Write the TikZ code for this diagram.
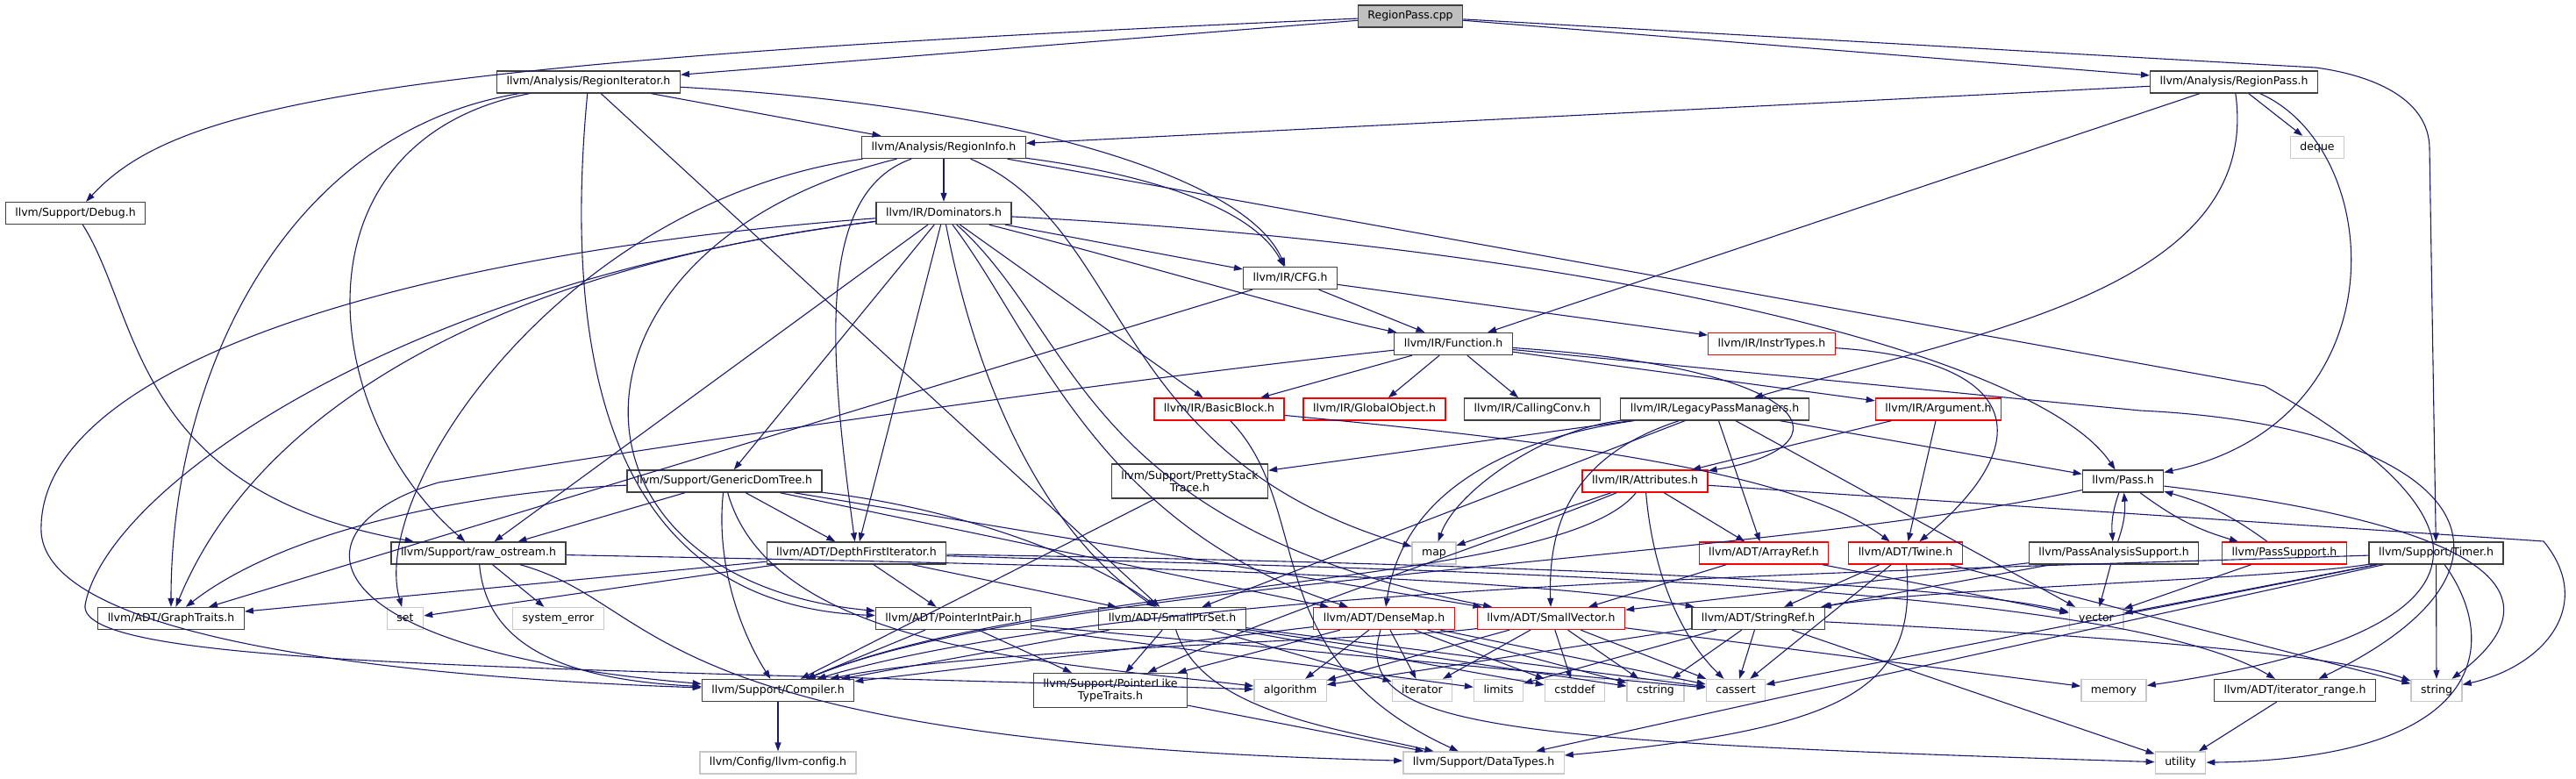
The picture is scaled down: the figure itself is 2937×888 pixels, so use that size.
\documentclass[tikz,border=0pt]{standalone}
\usepackage{fontspec}
\setmainfont{DejaVu Sans}
\usepackage{tikz}
\usetikzlibrary{arrows.meta}
\definecolor{edgeblue}{RGB}{25,25,112}
\definecolor{boxgray}{RGB}{64,64,64}
\definecolor{sysgray}{RGB}{200,200,200}
\definecolor{cppfill}{RGB}{191,191,191}
\tikzset{
  hdrbase/.style={draw=boxgray, line width=1.3pt, fill=white, inner xsep=11pt, font=\fontsize{12.5}{14}\selectfont},
  hdr/.style={hdrbase, inner ysep=0pt, minimum height=25pt, text height=9.5pt, text depth=3pt},
  hdrtwo/.style={hdrbase, align=center, inner ysep=5pt, minimum height=39pt},
  partial/.style={hdr, draw=red},
  sysinc/.style={hdr, draw=sysgray},
  mainfile/.style={hdr, fill=cppfill},
  incl/.style={draw=edgeblue, line width=1.1pt, -{Triangle[length=10pt,width=7pt]}},
}

\begin{document}
\begin{tikzpicture}[x=1pt,y=-1pt]
\useasboundingbox (0,0) rectangle (2937,888);

\node[mainfile] (rpcpp) at (1608,18.5) {RegionPass.cpp};
\node[hdr] (rgniter) at (671,93.5) {llvm/Analysis/RegionIterator.h};
\node[hdr] (rgnpass) at (2547,93.5) {llvm/Analysis/RegionPass.h};
\node[hdr] (rgninfo) at (1076,168) {llvm/Analysis/RegionInfo.h};
\node[sysinc] (deque) at (2642,168) {deque};
\node[hdr] (debug) at (86,243) {llvm/Support/Debug.h};
\node[hdr] (dominators) at (1076,243) {llvm/IR/Dominators.h};
\node[hdr] (cfg) at (1471,317) {llvm/IR/CFG.h};
\node[hdr] (function) at (1657,392) {llvm/IR/Function.h};
\node[partial] (instrtypes) at (2020,392) {llvm/IR/InstrTypes.h};
\node[partial] (basicblock) at (1390,466.5) {llvm/IR/BasicBlock.h};
\node[partial] (globalobj) at (1567,466.5) {llvm/IR/GlobalObject.h};
\node[hdr] (callingconv) at (1747,466.5) {llvm/IR/CallingConv.h};
\node[hdr] (legacypm) at (1955,466.5) {llvm/IR/LegacyPassManagers.h};
\node[partial] (argument) at (2210,466.5) {llvm/IR/Argument.h};
\node[hdr] (gendomtree) at (826,548.5) {llvm/Support/GenericDomTree.h};
\node[hdrtwo] (prettystack) at (1356.5,548.5) {llvm/Support/PrettyStack\\Trace.h};
\node[partial] (attributes) at (1875.5,548.5) {llvm/IR/Attributes.h};
\node[hdr] (pass) at (2420.5,548.5) {llvm/Pass.h};
\node[hdr] (rawostream) at (545.5,630.5) {llvm/Support/raw\_ostream.h};
\node[hdr] (dfiter) at (976.5,630.5) {llvm/ADT/DepthFirstIterator.h};
\node[sysinc] (map) at (1635,630.5) {map};
\node[partial] (arrayref) at (2011,630.5) {llvm/ADT/ArrayRef.h};
\node[partial] (twine) at (2172.5,630.5) {llvm/ADT/Twine.h};
\node[hdr] (passanalysis) at (2410,630.5) {llvm/PassAnalysisSupport.h};
\node[partial] (passsupport) at (2604.5,630.5) {llvm/PassSupport.h};
\node[hdr] (timer) at (2777.5,630.5) {llvm/Support/Timer.h};
\node[hdr] (graphtraits) at (195,705) {llvm/ADT/GraphTraits.h};
\node[sysinc] (set) at (462,705) {set};
\node[sysinc] (syserror) at (636.5,705) {system\_error};
\node[hdr] (ptrintpair) at (1087,705) {llvm/ADT/PointerIntPair.h};
\node[hdr] (smallptrset) at (1336.5,705) {llvm/ADT/SmallPtrSet.h};
\node[partial] (densemap) at (1578,705) {llvm/ADT/DenseMap.h};
\node[partial] (smallvector) at (1768.5,705) {llvm/ADT/SmallVector.h};
\node[hdr] (stringref) at (2004.5,705) {llvm/ADT/StringRef.h};
\node[sysinc] (vector) at (2390,705) {vector};
\node[hdr] (compiler) at (887,787) {llvm/Support/Compiler.h};
\node[hdrtwo] (ptrlike) at (1266,787) {llvm/Support/PointerLike\\TypeTraits.h};
\node[sysinc] (algorithm) at (1471,787) {algorithm};
\node[sysinc] (iterator) at (1621.5,787) {iterator};
\node[sysinc] (limits) at (1708.5,787) {limits};
\node[sysinc] (cstddef) at (1795.5,787) {cstddef};
\node[sysinc] (cstring) at (1887.5,787) {cstring};
\node[sysinc] (cassert) at (1979,787) {cassert};
\node[sysinc] (memory) at (2410,787) {memory};
\node[hdr] (iterrange) at (2616.5,787) {llvm/ADT/iterator\_range.h};
\node[sysinc] (string) at (2778,787) {string};
\node[sysinc] (llvmconfig) at (887,869.5) {llvm/Config/llvm-config.h};
\node[sysinc] (datatypes) at (1691.5,869.5) {llvm/Support/DataTypes.h};
\node[sysinc] (utility) at (2486,869.5) {utility};

\foreach \s/\t in {rpcpp/rgniter, rpcpp/rgnpass, rgniter/smallptrset, rgniter/rgninfo,
  rgnpass/rgninfo, rgnpass/function, rgnpass/deque,
  timer/vector, timer/cassert, timer/datatypes, timer/string,
  rgninfo/dominators, dominators/cfg, dominators/gendomtree, dominators/dfiter,
  dominators/basicblock, dominators/rawostream,
  cfg/graphtraits, cfg/function, cfg/instrtypes,
  function/basicblock, function/globalobj, function/callingconv, function/argument,
  legacypm/prettystack, legacypm/smallptrset, legacypm/arrayref, legacypm/vector, legacypm/pass,
  argument/twine, argument/attributes,
  gendomtree/rawostream, gendomtree/dfiter, gendomtree/densemap, gendomtree/smallvector,
  prettystack/compiler, attributes/arrayref, attributes/map,
  rawostream/syserror,
  dfiter/graphtraits, dfiter/set, dfiter/ptrintpair, dfiter/smallptrset,
  arrayref/smallvector, arrayref/vector,
  twine/stringref, twine/cassert, twine/string,
  passanalysis/vector, passanalysis/stringref, passanalysis/smallvector,
  passsupport/vector,
  ptrintpair/compiler, ptrintpair/ptrlike, ptrintpair/cassert, ptrintpair/limits,
  smallptrset/compiler, smallptrset/ptrlike, smallptrset/cassert, smallptrset/cstddef,
  smallptrset/cstring, smallptrset/iterator,
  densemap/compiler, densemap/ptrlike, densemap/algorithm, densemap/iterator,
  densemap/cstddef, densemap/cstring, densemap/cassert,
  smallvector/algorithm, smallvector/iterator, smallvector/cstddef, smallvector/cstring,
  smallvector/cassert, smallvector/memory,
  stringref/algorithm, stringref/cassert, stringref/cstring, stringref/limits, stringref/utility,
  compiler/llvmconfig, ptrlike/datatypes, iterrange/utility}
  \draw[incl] (\s) -- (\t);

\draw[incl] (rpcpp) .. controls (420,70) and (200,120) .. (debug);
\draw[incl] (rpcpp) -- (2640,77) .. controls (2700,85) and (2770,110) .. (2770,170) -- (timer);
\draw[incl] (rgniter) .. controls (330,150) and (195,420) .. (graphtraits);
\draw[incl] (rgniter) .. controls (330,160) and (360,470) .. (rawostream);
\draw[incl] (rgniter) .. controls (640,420) and (700,690) .. (ptrintpair);
\draw[incl] (rgniter) .. controls (1150,120) and (1420,200) .. (cfg);
\draw[incl] (rgnpass) .. controls (2580,330) and (2250,380) .. (legacypm);
\draw[incl] (rgnpass) .. controls (2720,170) and (2740,480) .. (pass);
\draw[incl] (debug) .. controls (160,360) and (150,560) .. (rawostream);
\draw[incl] (timer) .. controls (2850,730) and (2840,865) .. (utility);
\draw[incl] (timer) .. controls (2600,660) and (2200,670) .. (stringref);
\draw[incl] (timer) .. controls (2200,650) and (1300,665) .. (compiler);
\draw[incl] (rgninfo) .. controls (1320,200) and (1430,240) .. (cfg);
\draw[incl] (rgninfo) .. controls (930,220) and (945,400) .. (dfiter);
\draw[incl] (rgninfo) .. controls (620,280) and (620,660) .. (ptrintpair);
\draw[incl] (rgninfo) .. controls (640,230) and (420,560) .. (set);
\draw[incl] (rgninfo) .. controls (1290,260) and (1260,520) .. (map);
\draw[incl] (rgninfo) -- (2582,440) .. controls (2900,620) and (2800,730) .. (memory);
\draw[incl] (dominators) .. controls (1300,300) and (1500,360) .. (function);
\draw[incl] (dominators) .. controls (1800,280) and (2320,400) .. (pass);
\draw[incl] (dominators) .. controls (1110,420) and (1180,600) .. (smallptrset);
\draw[incl] (dominators) .. controls (1180,380) and (1250,600) .. (densemap);
\draw[incl] (dominators) .. controls (1230,380) and (1230,600) .. (smallvector);
\draw[incl] (dominators) .. controls (600,300) and (300,450) .. (graphtraits);
\draw[incl] (dominators) .. controls (450,290) and (40,420) .. (47,607) .. controls (55,720) and (400,770) .. (compiler);
\draw[incl] (dominators) .. controls (450,320) and (120,560) .. (97,690) .. controls (90,760) and (600,760) .. (algorithm);
\draw[incl] (function) .. controls (2080,420) and (2110,510) .. (attributes);
\draw[incl] (function) -- (2440,468) .. controls (2800,485) and (2920,640) .. (iterrange);
\draw[incl] (function) .. controls (1300,430) and (800,500) .. (500,550) .. controls (330,600) and (340,740) .. (compiler);
\draw[incl] (instrtypes) .. controls (2300,410) and (2330,500) .. (twine);
\draw[incl] (basicblock) .. controls (1800,505) and (2050,540) .. (twine);
\draw[incl] (basicblock) .. controls (1500,580) and (1430,750) .. (datatypes);
\draw[incl] (legacypm) .. controls (1720,500) and (1600,560) .. (densemap);
\draw[incl] (legacypm) .. controls (1760,490) and (1660,560) .. (map);
\draw[incl] (legacypm) .. controls (1790,520) and (1765,600) .. (smallvector);
\draw[incl] (gendomtree) .. controls (550,560) and (330,600) .. (graphtraits);
\draw[incl] (gendomtree) .. controls (815,650) and (850,730) .. (compiler);
\draw[incl] (gendomtree) .. controls (1100,580) and (1250,640) .. (smallptrset);
\draw[incl] (gendomtree) .. controls (880,740) and (1200,755) .. (algorithm);
\draw[incl] (attributes) .. controls (1700,620) and (1450,700) .. (ptrlike);
\draw[incl] (attributes) .. controls (1780,670) and (1200,660) .. (compiler);
\draw[incl] (attributes) .. controls (1885,660) and (1920,730) .. (cassert);
\draw[incl] (attributes) -- (2900,617) .. controls (2960,690) and (2900,760) .. (string);
\draw[incl] (pass) to[bend right=12] (passanalysis);
\draw[incl] (passanalysis) to[bend right=12] (pass);
\draw[incl] (pass) to[bend right=10] (passsupport);
\draw[incl] (passsupport) to[bend right=10] (pass);
\draw[incl] (pass) .. controls (2850,600) and (2920,680) .. (string);
\draw[incl] (pass) .. controls (2000,640) and (1200,660) .. (compiler);
\draw[incl] (rawostream) .. controls (1000,640) and (1700,650) .. (stringref);
\draw[incl] (rawostream) .. controls (555,740) and (650,775) .. (compiler);
\draw[incl] (rawostream) .. controls (760,690) and (720,845) .. (datatypes);
\draw[incl] (dfiter) .. controls (1600,650) and (2400,660) .. (iterrange);
\draw[incl] (dfiter) .. controls (1600,640) and (2200,660) .. (vector);
\draw[incl] (twine) .. controls (2185,780) and (2120,830) .. (datatypes);
\draw[incl] (smallptrset) .. controls (1370,810) and (1520,830) .. (datatypes);
\draw[incl] (densemap) .. controls (1540,830) and (1700,845) .. (utility);
\draw[incl] (smallvector) .. controls (1600,728) and (1100,740) .. (compiler);
\draw[incl] (stringref) .. controls (2300,720) and (2650,740) .. (string);
\end{tikzpicture}
\end{document}
